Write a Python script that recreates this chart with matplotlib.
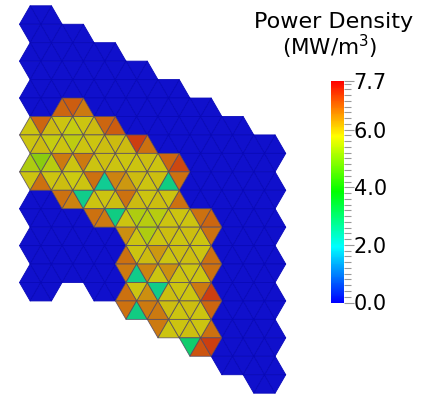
import numpy as np
import matplotlib
matplotlib.use('Agg')
import matplotlib.pyplot as plt
from matplotlib.collections import PolyCollection
from matplotlib.colors import ListedColormap, Normalize, hsv_to_rgb
from matplotlib.cm import ScalarMappable

# Assembly map: hexes per column, each hex split in 6 triangles
hexes_per_column = [8, 7, 7, 7, 7, 7, 7, 7]

# Fuel hexes (column, row) and their triangle power densities (MW/m3),
# triangle order: upper right, top, upper left, lower left, bottom, lower right
fuel_cells = [(0, 3), (0, 4),
              (1, 2), (1, 3), (1, 4),
              (2, 2), (2, 3), (2, 4),
              (3, 2), (3, 3), (3, 4), (3, 5), (3, 6),
              (4, 2), (4, 3), (4, 4), (4, 5), (4, 6),
              (5, 3), (5, 4), (5, 5), (5, 6)]
fuel_power = [[5.95, 6.8, 5.85, 5.85, 5.95, 5.7],
              [5.55, 5.1, 5.45, 5.85, 6.7, 5.85],
              [6.6, 6.9, 6.8, 5.85, 5.7, 5.85],
              [5.85, 5.6, 5.85, 6.6, 5.85, 6.6],
              [5.85, 5.8, 5.9, 6.7, 6.5, 2.6],
              [6.9, 6.8, 5.95, 5.85, 5.9, 5.95],
              [5.85, 5.9, 5.85, 6.7, 2.5, 6.5],
              [5.9, 5.85, 5.85, 6.7, 6.6, 2.7],
              [6.7, 7.2, 5.95, 5.85, 5.85, 5.9],
              [5.85, 5.95, 6.3, 6.7, 5.95, 5.85],
              [5.55, 5.45, 5.85, 6.4, 5.85, 5.45],
              [5.95, 5.85, 6.7, 6.6, 2.6, 6.5],
              [6.4, 5.85, 6.7, 6.7, 2.7, 6.6],
              [7.1, 6.8, 5.85, 5.9, 2.7, 6.7],
              [6.7, 5.85, 5.9, 5.55, 5.85, 5.85],
              [5.85, 5.9, 5.85, 6.3, 5.85, 5.9],
              [5.85, 6.4, 5.85, 2.6, 5.9, 5.85],
              [5.85, 5.9, 6.6, 6.6, 5.85, 5.85],
              [6.8, 6.7, 5.85, 5.9, 5.85, 6.7],
              [6.7, 5.85, 5.9, 5.85, 5.85, 6.7],
              [7.2, 6.6, 5.85, 5.9, 5.85, 6.8],
              [6.7, 5.85, 5.9, 2.9, 7.0, 7.2]]
reflector_power = 0.0

vmin, vmax = 0.0, 7.7
cbar_ticks = [0.0, 2.0, 4.0, 6.0, 7.7]
cbar_labels = ['0.0', '2.0', '4.0', '6.0', '7.7']

# geometry (pixels)
side = 21.3
half_h = side * np.sqrt(3) / 2
x0, y0 = 40.8, 5.8 + half_h


def rainbow(sat=1.0, value=1.0):
    hue = np.linspace(2 / 3, 0, 256)
    hsv = np.stack([hue, np.full_like(hue, sat), np.full_like(hue, value)],
                   axis=1)
    return ListedColormap(hsv_to_rgb(hsv))


def hex_triangles(cx, cy):
    ang = np.radians(np.arange(7) * 60)
    vx = cx + side * np.cos(ang)
    vy = cy - side * np.sin(ang)
    return [[(cx, cy), (vx[k], vy[k]), (vx[k + 1], vy[k + 1])]
            for k in range(6)]


power = {cell: v for cell, v in zip(fuel_cells, fuel_power)}
tris, vals = [], []
for col, n in enumerate(hexes_per_column):
    for row in range(n):
        cx = x0 + 1.5 * side * col
        cy = y0 + half_h * col + 2 * half_h * row
        tris += hex_triangles(cx, cy)
        vals += power.get((col, row), [reflector_power] * 6)
vals = np.array(vals)

norm = Normalize(vmin, vmax)
shaded = rainbow(0.92, 0.8)
faces = shaded(norm(vals))
edges = np.where((vals > 0)[:, None],
                 np.array([[0.32, 0.28, 0.38, 0.85]]),
                 np.array([[0.03, 0.03, 0.72, 1.0]]))

fig = plt.figure(figsize=(4.22, 3.96), dpi=100)
ax = fig.add_axes([0, 0, 1, 1])
# reflector first, fuel on top so its edges stay visible
order = np.argsort(vals > 0, kind='stable')
pc = PolyCollection([tris[i] for i in order], facecolors=faces[order],
                    edgecolors=edges[order], linewidths=0.6)
ax.add_collection(pc)
ax.set_xlim(0, 422)
ax.set_ylim(396, 0)
ax.axis('off')

cax = fig.add_axes([330.7 / 422, (396 - 302.5) / 396,
                    13.3 / 422, (302.5 - 80.7) / 396])
cb = fig.colorbar(ScalarMappable(norm=norm, cmap=rainbow()), cax=cax)
cb.outline.set_visible(False)
cb.set_ticks(cbar_ticks)
cb.set_ticklabels(cbar_labels)
cb.ax.set_yticks(np.arange(0, 7.7, 0.2), minor=True)
cb.ax.tick_params(which='major', length=7, width=0.8, color='#999999',
                  labelsize=15, pad=0)
cb.ax.tick_params(which='minor', length=5, width=0.8, color='#999999')

fig.text(334 / 422, 1 - 22 / 396, 'Power Density', ha='center', va='center',
         fontsize=16)
fig.text(330 / 422, 1 - 47 / 396, '(MW/m$^3$)', ha='center', va='center',
         fontsize=15.5)

fig.savefig('out.png', dpi=100)
